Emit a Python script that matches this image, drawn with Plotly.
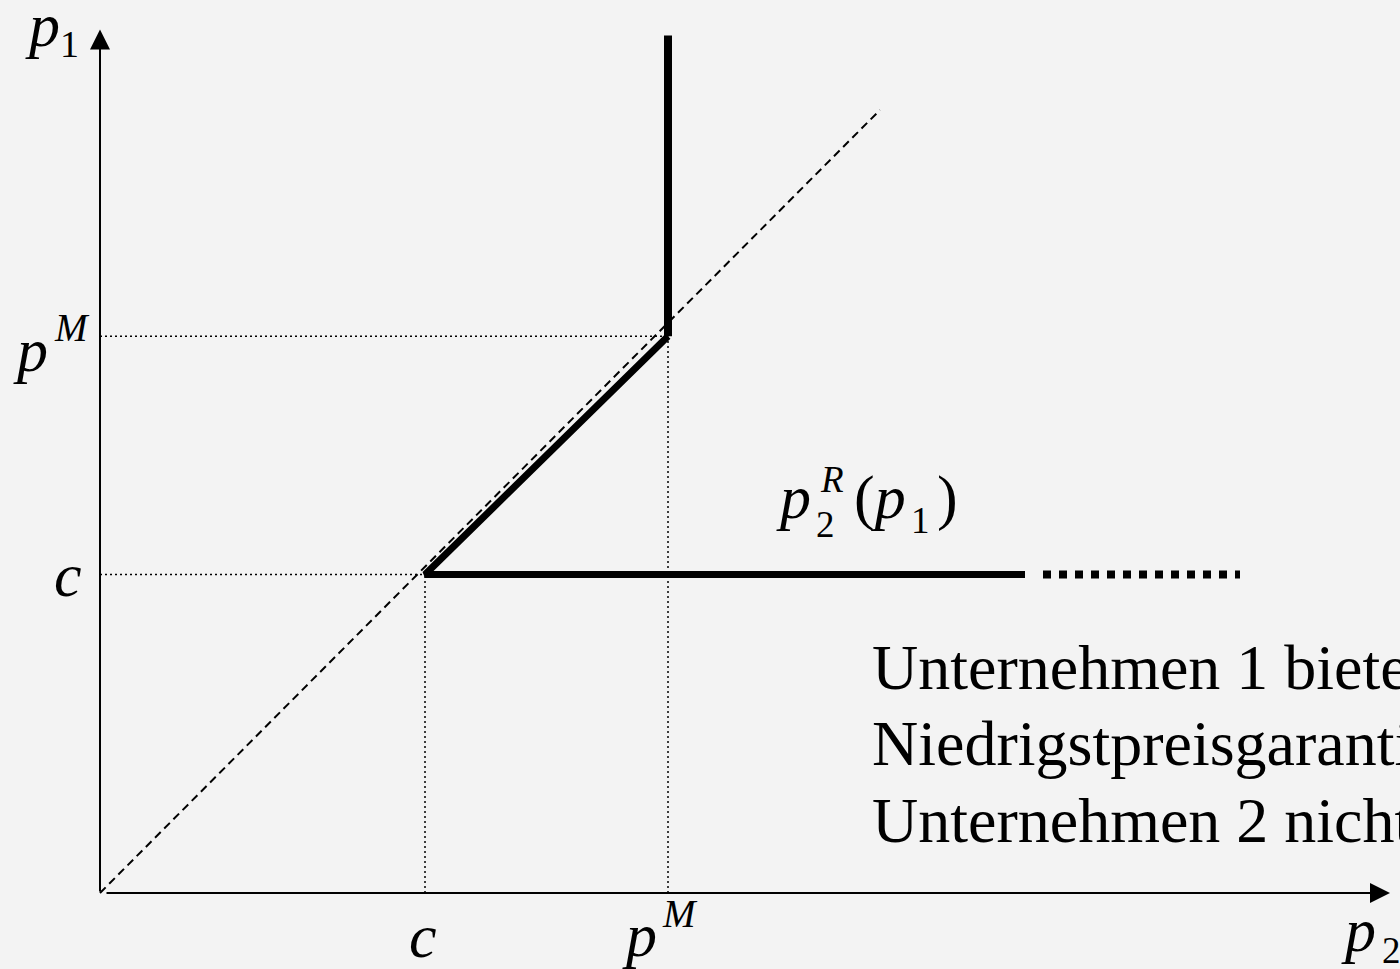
import plotly.graph_objects as go

# ---- values (data units: p2 on x, p1 on y) ----
c_val = 3.25          # marginal cost c
pm_val = 5.68         # monopoly price p^M
diag_x = [0.0, 7.8]   # 45-degree helper line (p1 = p2)
diag_y = [0.0, 7.99]
vert_top = 8.75       # top of the vertical part of reaction curve
horiz_end = 9.25      # end of solid horizontal part
dotted_start = 9.43
dotted_end = 11.4
x_axis_end = 12.9
y_axis_end = 8.81

FONT = "Liberation Serif, Times New Roman, serif"
BG = "#f3f3f3"

fig = go.Figure()

# thin dotted guide lines
guides = [
    ([0, pm_val], [pm_val, pm_val]),
    ([0, c_val], [c_val, c_val]),
    ([c_val, c_val], [0, c_val]),
    ([pm_val, pm_val], [0, pm_val]),
]
for gx, gy in guides:
    fig.add_trace(go.Scatter(x=gx, y=gy, mode="lines",
                             line=dict(color="black", width=1.5, dash="2px,3px"),
                             hoverinfo="skip", showlegend=False))

# dashed diagonal
fig.add_trace(go.Scatter(x=diag_x, y=diag_y, mode="lines",
                         line=dict(color="black", width=2, dash="8px,5px"),
                         hoverinfo="skip", showlegend=False))

# thick reaction curve of firm 2
fig.add_trace(go.Scatter(x=[pm_val, pm_val], y=[vert_top, pm_val], mode="lines",
                         line=dict(color="black", width=8),
                         hoverinfo="skip", showlegend=False))
fig.add_trace(go.Scatter(x=[pm_val, c_val, horiz_end], y=[pm_val, c_val, c_val], mode="lines",
                         line=dict(color="black", width=7),
                         hoverinfo="skip", showlegend=False))
fig.add_trace(go.Scatter(x=[dotted_start, dotted_end], y=[c_val, c_val], mode="lines",
                         line=dict(color="black", width=8, dash="8px,8px"),
                         hoverinfo="skip", showlegend=False))

# axes with arrows
fig.add_annotation(x=x_axis_end, y=0, ax=0.05, ay=0, xref="x", yref="y", axref="x", ayref="y",
                   text="", showarrow=True, arrowhead=2, arrowsize=2, arrowwidth=2,
                   arrowcolor="black", standoff=0)
fig.add_annotation(x=0, y=y_axis_end, ax=0, ay=0, xref="x", yref="y", axref="x", ayref="y",
                   text="", showarrow=True, arrowhead=2, arrowsize=2, arrowwidth=2,
                   arrowcolor="black", standoff=0)

W, H = 1400, 969


def label(text, px, py, size, xanchor="center", yanchor="middle"):
    fig.add_annotation(x=px / W, y=1 - py / H, xref="paper", yref="paper",
                       text=text, showarrow=False, xanchor=xanchor, yanchor=yanchor,
                       font=dict(family=FONT, size=size, color="black"))


BIG = 62
SMALL = 37

# p1 (y axis title)
label("<i>p</i>", 42, 25, BIG)
label("1", 69, 44, SMALL + 1)
# p^M on y axis
label("<i>p</i>", 31, 350, BIG)
label("<i>M</i>", 72, 327, SMALL + 2)
# c on y axis
label("<i>c</i>", 68, 575, BIG)
# c on x axis
label("<i>c</i>", 423, 936, BIG)
# p^M on x axis
label("<i>p</i>", 639, 935, BIG)
label("<i>M</i>", 680, 913, SMALL + 2)
# p2 (x axis title)
label("<i>p</i>", 1358, 930, BIG)
label("2", 1391, 950, SMALL)

# p2^R(p1)
label("<i>p</i>", 793, 497, BIG)
label("2", 825, 524, SMALL)
label("<i>R</i>", 832, 480, SMALL)
label("(<i>p</i>", 852, 497, BIG, xanchor="left")
label("1", 921, 520, SMALL)
label(")", 935, 497, BIG, xanchor="left")

label("Unternehmen 1 bietet", 870, 667, 64, xanchor="left")
label("Niedrigstpreisgarantie", 870, 743, 64, xanchor="left")
label("Unternehmen 2 nicht", 870, 820, 64, xanchor="left")

fig.update_layout(
    width=W, height=H,
    margin=dict(l=0, r=0, t=0, b=0),
    paper_bgcolor=BG, plot_bgcolor=BG,
    showlegend=False,
    xaxis=dict(range=[-1.0, 13.0], visible=False, fixedrange=True),
    yaxis=dict(range=[-(H - 893) / 98, 893 / 98], visible=False, fixedrange=True),
)

fig.write_html("out.html", config={"displayModeBar": False},
               post_script="document.body.style.margin='0';")
